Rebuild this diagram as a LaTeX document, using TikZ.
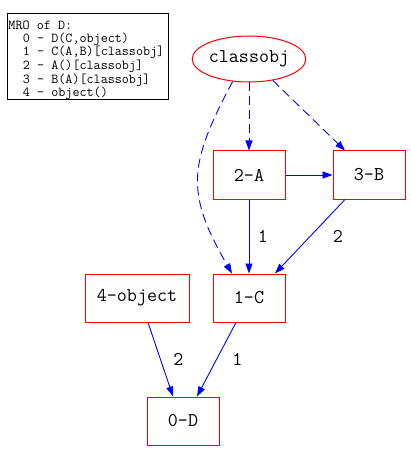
\documentclass[tikz,border=0pt]{standalone}
\usepackage{fontspec}
\usetikzlibrary{arrows.meta, shapes.geometric}

\begin{document}
\begin{tikzpicture}[x=1pt, y=-1pt, >={Triangle[length=10pt, width=7pt]},
  cls/.style={draw=red, line width=1pt, minimum width=72pt, minimum height=48pt,
    inner sep=0pt, font=\fontsize{19.5}{19.5}\ttfamily},
  meta/.style={cls, ellipse, minimum width=110pt, minimum height=46pt},
  inh/.style={->, draw=blue, line width=0.9pt},
  mcl/.style={inh, dash pattern=on 9pt off 5pt},
  lbl/.style={font=\fontsize{19.5}{19.5}\ttfamily}]
  \useasboundingbox (0,0) rectangle (410,462);

  % MRO listing
  \node[draw, line width=1pt, anchor=north west, minimum width=161pt, minimum height=86pt,
    inner xsep=1pt, inner ysep=0pt, text width=159pt, align=left,
    font=\fontsize{13.7}{12.3}\ttfamily] (mro) at (7,13)
    {\spaceskip=0.525em\relax\rule{0pt}{16.5pt}MRO of D:\\
     \hspace*{1.05em}0 - D(C,object)\\
     \hspace*{1.05em}1 - C(A,B)[classobj]\\
     \hspace*{1.05em}2 - A()[classobj]\\
     \hspace*{1.05em}3 - B(A)[classobj]\\
     \hspace*{1.05em}4 - object()};

  \node[meta] (cobj) at (249,59) {classobj};
  \node[cls] (a) at (249,175) {2-A};
  \node[cls] (b) at (369,175) {3-B};
  \node[cls] (c) at (249,298) {1-C};
  \node[cls, minimum width=104pt] (obj) at (137,298) {4-object};
  \node[cls] (d) at (183,421) {0-D};

  % metaclass links
  \draw[mcl] (cobj) -- (a);
  \draw[mcl] (cobj.318) -- ([xshift=-24pt]b.north);
  \draw[mcl] (cobj.234) to[out=242, in=120, looseness=1.25] ([xshift=-17pt]c.north);

  % bases
  \draw[inh] (a) -- (b);
  \draw[inh] (a) -- node[lbl, xshift=14pt] (l1) {1} (c);
  \draw[inh] ([xshift=-24pt]b.south) -- node[lbl, xshift=28pt] (l2) {2} ([xshift=26pt]c.north);
  \draw[inh] ([xshift=11pt]obj.south) -- node[lbl, xshift=18pt] (l3) {2} ([xshift=-10pt]d.north);
  \draw[inh] ([xshift=-13pt]c.south) -- node[lbl, xshift=21pt] (l4) {1} ([xshift=14pt]d.north);
\end{tikzpicture}
\end{document}
